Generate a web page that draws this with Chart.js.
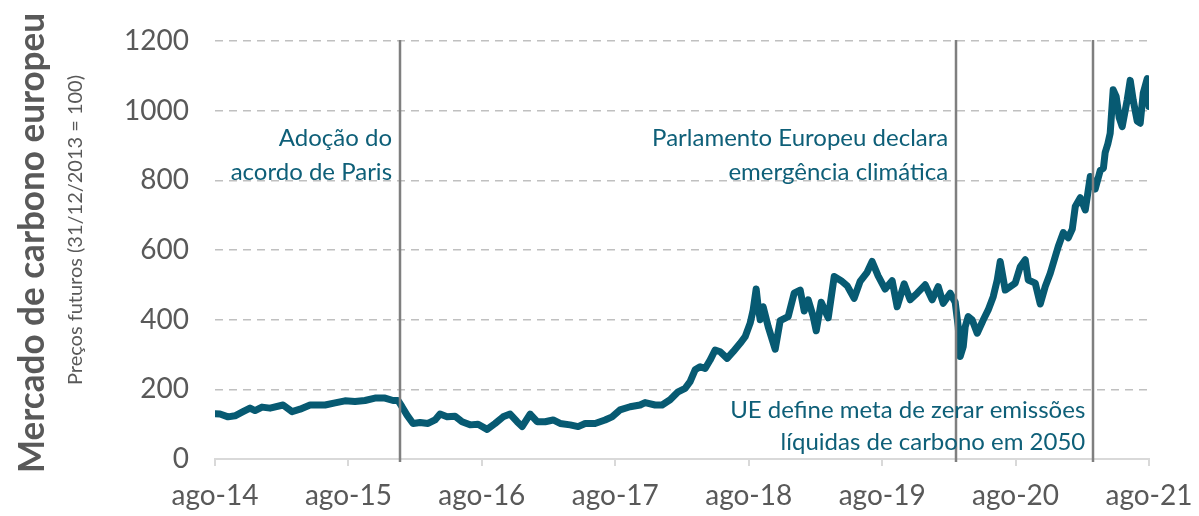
<!DOCTYPE html>
<html>
<head>
<meta charset="utf-8">
<script src="https://cdn.jsdelivr.net/npm/chart.js@4.4.0/dist/chart.umd.min.js"></script>
<style>
html,body{margin:0;padding:0;background:#fff;}
#wrap{width:1199px;height:516px;position:relative;}
</style>
</head>
<body>
<div id="wrap"><canvas id="c"></canvas></div>
<script>
// ---- DATA (months since ago-14, index values 31/12/2013 = 100) ----
const months = [0,0.45,1.17,1.80,2.52,3.15,3.60,4.23,4.95,6.12,6.93,7.65,8.55,9.90,10.80,11.69,12.59,13.49,14.39,15.29,16.01,16.46,16.82,17.27,17.81,18.44,19.16,19.79,20.24,20.87,21.59,22.22,22.94,23.66,24.47,25.19,25.91,26.54,27.17,27.62,28.34,28.97,29.69,30.41,31.04,31.94,32.66,33.29,34.18,35.08,35.71,36.43,37.33,38.23,38.68,39.58,40.21,40.93,41.65,42.28,42.73,43.18,43.63,44.08,44.53,44.98,45.43,46.06,46.60,47.23,47.68,48.13,48.40,48.67,48.85,49.03,49.30,49.75,50.38,50.83,51.55,52.09,52.63,52.99,53.35,53.80,54.07,54.52,55.15,55.69,56.31,56.86,57.48,58.02,58.65,59.10,59.64,60.27,60.90,61.35,61.98,62.52,63.15,63.87,64.50,65.04,65.49,66.12,66.57,66.84,67.02,67.29,67.47,67.74,68.10,68.55,69.09,69.54,69.99,70.35,70.62,71.07,71.52,71.97,72.42,72.87,73.14,73.77,74.22,74.67,75.12,75.57,75.84,76.29,76.74,77.10,77.37,77.82,78.27,78.72,79.16,79.61,79.90,80.06,80.30,80.51,80.78,81.05,81.32,81.59,82.04,82.31,82.58,82.94,83.21,83.48,83.84,84];
const values = [130,129,121,124,136,146,139,149,146,155,136,143,155,155,161,167,165,168,175,175,168,168,150,126,102,105,102,112,129,121,123,107,98,100,85,102,121,129,107,93,129,107,107,112,102,98,93,102,102,112,121,141,150,155,162,155,155,170,193,203,222,256,265,260,284,313,308,289,308,332,351,390,428,488,437,400,437,380,315,397,409,476,485,425,457,409,368,450,405,524,512,497,461,510,536,567,526,488,512,437,503,457,476,500,457,495,447,476,450,380,294,322,380,409,399,361,399,428,466,514,567,485,495,505,552,572,514,505,445,495,533,581,610,650,635,660,725,750,715,811,775,828,835,880,905,935,1060,1040,980,954,1031,1087,1030,970,964,1050,1092,1012];
const xTickLabels = ['ago-14','ago-15','ago-16','ago-17','ago-18','ago-19','ago-20','ago-21'];
const yTicks = [0,200,400,600,800,1000,1200];
const events = [16.64, 66.66, 78.99];
const eventTexts = [
  ['Adoção do','acordo de Paris'],
  ['Parlamento Europeu declara','emergência climática'],
  ['UE define meta de zerar emissões','líquidas de carbono em 2050']
];
const eventTextLevels = [[922,824],[922,824],[141,49]];
const yTitle = 'Mercado de carbono europeu';
const ySubtitle = 'Preços futuros (31/12/2013 = 100)';

const FONT = 'Lato, "Open Sans", sans-serif';
const TEAL = '#075a72';
const GRAY = '#595959';

const overlay = {
  id:'overlay',
  afterDatasetsDraw(chart){
    const {ctx, chartArea, scales} = chart;
    const xs = scales.x, ys = scales.y;
    ctx.save();
    ctx.strokeStyle = '#7f7f7f';
    ctx.lineWidth = 2.5;
    events.forEach(ev=>{
      const px = Math.round(xs.getPixelForValue(ev));
      ctx.beginPath();
      ctx.moveTo(px, chartArea.top - 1);
      ctx.lineTo(px, chartArea.bottom + 3);
      ctx.stroke();
    });
    ctx.fillStyle = '#0e5f78';
    ctx.font = '24px ' + FONT;
    ctx.textAlign = 'right';
    ctx.textBaseline = 'middle';
    events.forEach((ev,i)=>{
      const px = xs.getPixelForValue(ev) - 8;
      eventTexts[i].forEach((t,j)=>{
        ctx.fillText(t, px, ys.getPixelForValue(eventTextLevels[i][j]));
      });
    });
    ctx.restore();
  },
  afterDraw(chart){
    const ctx = chart.ctx;
    ctx.save();
    ctx.fillStyle = GRAY;
    ctx.translate(32, 243);
    ctx.rotate(-Math.PI/2);
    ctx.font = 'bold 36px ' + FONT;
    ctx.textAlign = 'center';
    ctx.textBaseline = 'middle';
    let w = ctx.measureText(yTitle).width;
    ctx.scale(Math.min(1, 460 / w), 1);
    ctx.fillText(yTitle, 0, 0);
    ctx.restore();
    ctx.save();
    ctx.fillStyle = GRAY;
    ctx.translate(76, 230);
    ctx.rotate(-Math.PI/2);
    ctx.font = '19px ' + FONT;
    ctx.textAlign = 'center';
    ctx.textBaseline = 'middle';
    w = ctx.measureText(ySubtitle).width;
    ctx.scale(Math.min(1.1, 310 / w), 1);
    ctx.fillText(ySubtitle, 0, 0);
    ctx.restore();
  }
};

new Chart(document.getElementById('c'), {
  type:'line',
  data:{
    datasets:[{
      data: months.map((m,i)=>({x:m, y:values[i]})),
      borderColor: TEAL,
      borderWidth: 7,
      pointRadius: 0,
      tension: 0,
      borderJoinStyle:'round',
      borderCapStyle:'round',
      fill:false
    }]
  },
  options:{
    responsive:true,
    maintainAspectRatio:false,
    animation:false,
    layout:{padding:{top:41, right:50, left:0, bottom:0}},
    plugins:{legend:{display:false}, tooltip:{enabled:false}},
    scales:{
      x:{
        type:'linear', min:0, max:84,
        afterBuildTicks(scale){ scale.ticks = xTickLabels.map((l,i)=>({value:i*12})); },
        afterFit(scale){ scale.height = 57; scale.paddingRight = 0; scale.paddingLeft = 0; },
        ticks:{
          callback:(v)=> xTickLabels[Math.round(v/12)],
          font:{family:FONT, size:28},
          color:GRAY,
          padding:13,
          maxRotation:0,
          autoSkip:false
        },
        grid:{drawOnChartArea:false, drawTicks:true, tickLength:7, color:'#d9d9d9', lineWidth:2},
        border:{display:true, color:'#d9d9d9', width:2}
      },
      y:{
        min:0, max:1200,
        afterBuildTicks(scale){ scale.ticks = yTicks.map(v=>({value:v})); },
        afterFit(scale){ scale.width = 215; scale.paddingTop = 0; scale.paddingBottom = 0; },
        ticks:{
          callback:(v)=> String(v),
          font:{family:FONT, size:28},
          color:GRAY,
          padding:26
        },
        grid:{color:'#c0c0c0', lineWidth:1.5, drawTicks:false},
        border:{display:false, dash:[8,6]}
      }
    }
  },
  plugins:[overlay]
});
</script>
</body>
</html>
